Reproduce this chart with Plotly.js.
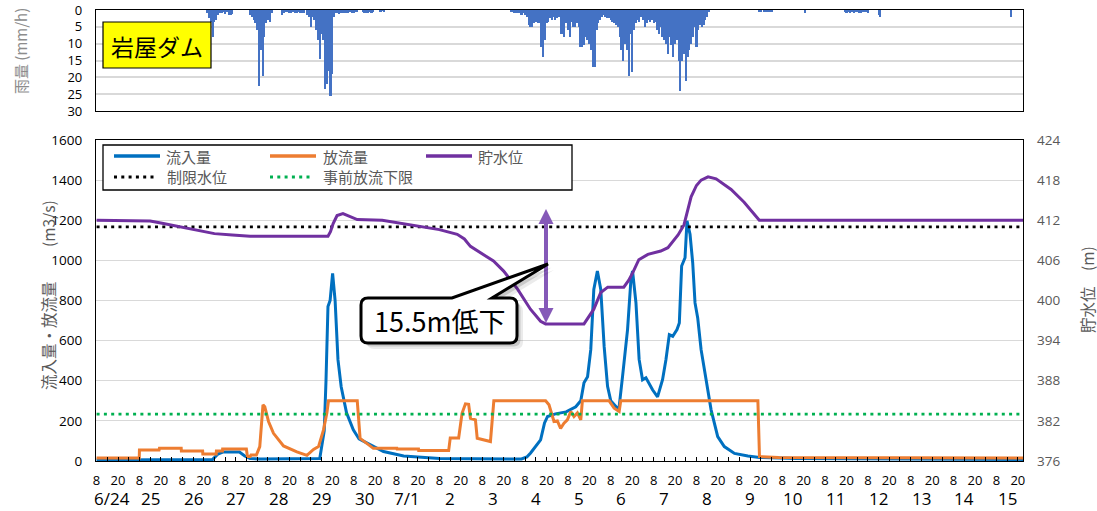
<!DOCTYPE html>
<html lang="ja">
<head>
<meta charset="utf-8">
<title>岩屋ダム 雨量・流入量・放流量・貯水位</title>
<script src="https://cdn.plot.ly/plotly-3.0.1.min.js"></script>
<style>
  html, body { margin: 0; padding: 0; background: #fff; }
  #chart { width: 1097px; height: 511px; }
</style>
</head>
<body>
<div id="chart"></div>
<script>
// All times are hours counted from 2020-06-24 00:00.
const START = Date.UTC(2020, 5, 24);

// 流入量 (m3/s)
const inflowHours = [8,70,73,76,79,88,91,94,100,133,135.5,136.5,137.6,138.8,140.2,141.6,143.2,145,148,151.8,155,159.3,168.7,180,190,200,246,249,251.1,253.9,256.7,258.9,260.6,265,271,276.4,279.2,281,283,284.8,286.5,288.5,290.4,292.3,294.2,296,298.8,300.5,302.6,305.4,307.3,308.2,310.1,311.9,313.8,315.7,319.4,322.2,325,326.9,328.8,330.7,333.1,334.4,335.7,337.6,338.7,340.4,341.9,343.2,344.7,346.6,349.4,352.2,355.9,359.6,365.3,372.8,379.3,400,527];
const inflowValues = [5,5,8,35,45,45,25,12,10,12,150,400,770,800,935,800,505,370,240,155,110,90,47,25,18,13,10,20,40,72,105,190,222,235,245,270,300,390,420,555,855,947,855,570,372,300,272,255,422,655,905,947,790,505,405,415,355,320,405,505,630,622,655,688,972,1013,1197,1130,988,788,713,555,405,255,122,72,38,25,18,12,8];

// 放流量 (m3/s)
const releaseHours = [8,31.9,32,43,43.2,55.4,55.5,67.4,67.5,75,75.1,78.5,78.6,91.9,92.5,94,94.5,97.5,99.4,100.5,101.2,102.2,104.3,107.1,112.7,120.2,125.8,129.5,132.3,135.1,137,137.9,154,155.6,163,176.2,176.3,188.3,188.4,205.2,206.1,210.8,212.7,214.6,216.4,217.4,220.2,221.2,224.9,228.6,230.5,259.5,261.4,262.7,264.2,266.1,267.9,269.8,271.7,273.6,275.4,277.3,279.2,280.1,295.1,297.9,300.7,301.6,378.4,379.3,390,527];
const releaseValues = [15,15,55,55,63,63,50,50,35,35,50,50,60,60,22,22,30,30,72,200,280,270,197,138,75,45,28,58,72,155,240,300,300,113,63,63,60,60,52,52,115,115,238,285,283,213,205,113,105,97,300,300,280,238,197,200,163,188,205,247,222,240,205,300,300,263,247,300,300,22,18,15];

// 貯水位 (m)
const levelHours = [8,32,38,44,50,56,62,68,74,84,94,137.6,139,140.5,142.7,146,150,154,168,182,200,210,214,217.4,223,230.3,236,243.8,251,256.7,259.5,281,286.5,290.4,294.3,303.3,306,308.4,311.7,316.8,324,328,333.7,337,341,344,346.6,350.5,355,363.4,370.7,379.2,527];
const levelValues = [412.0,412.0,411.9,411.6,411.3,410.9,410.6,410.3,410.0,409.8,409.6,409.6,410.3,411.5,412.7,413.0,412.6,412.1,412.0,411.4,410.6,409.9,409.2,408.1,407.2,405.9,404.4,401.7,398.7,396.9,396.5,396.5,398.7,401.2,402.0,402.0,403.0,404.2,406.1,406.9,407.4,407.9,409.8,411.3,415.5,417.2,418.0,418.5,418.2,416.6,414.7,412.0,412.0];

// 制限水位 / 事前放流下限 (m)
const limitLevel = 411.0;
const preReleaseLowerLevel = 383.0;

// 時間雨量 (mm/h): each spell = first hour + consecutive hourly values
const rainSpellStart = [70, 94, 112, 126, 143, 167, 240, 379, 405, 427, 446, 520];
const rainSpellValues = [
  [1,2.5,3.5,8,3.5,3,1.5,1,0.8,0.5,1.2,0.5,1.5,1.5,1.2],
  [1.5,2,3,4,6,22.5,12,19.5,8,4,3,3.5,1],
  [1.5,1,0.3,0.5,0.8,1,0.5,0.8,1,0.5,1,0.8,1],
  [1.5,2,5,2,3,6,9,14.5,7,9,23.5,22,18,25.5,19,2,1],
  [1,1.2,1,1,0.8,1,1,0.5,0.8,1,0.5,0.3,0,0,0.3,0.8,0.8,1,0.5,0.8,0.3],
  [0.3,0.2,0.3],
  [0.5,0.5,0.8,0.8,1,1,1.5,1,1.5,2,
   4.5,5,5,4,3.5,4,4,11,14,9,
   4,3.5,2.5,3,2,3,2.5,2,7,7,
   8,4,6,8,3.5,5,5,4,5,11,
   11,10.5,8,9,10,12,17,17,6,4,
   3,2,1.5,2,2.5,2.5,3,3.5,4,4.5,
   5,8,12,15,10,12,19.5,7,18.5,6,
   4,3,3.5,2,3,5,4,3,3.5,3,
   4,3.5,6,7,5,8,9,10,13,8,
   10.5,14,10,9,15,24,15,13,21,14,
   12,10,8,5,11,6,4.5,5,4.5,3,
   2,0.5],
  [0.3,0.3,0,0.3,0.5,0.3,0.3,0.3],
  [1],
  [0.5,0.8,0.5,1,0.5,0.8,0.5,0.5,1,0.8,0.5,0.3,0.5,0.8],
  [1.5,2],
  [2]
];

// Axis labels
const dayLabels = ['6/24','25','26','27','28','29','30','7/1','2','3','4','5','6','7','8','9','10','11','12','13','14','15'];
const hourLabels = {8: '8', 20: '20'};
const rainTicks = [0, 5, 10, 15, 20, 25, 30];

// ---------------------------------------------------------------------------
const NUM_FONT = '"Open Sans", "Noto Sans CJK JP", sans-serif';
const JP_FONT = '"Noto Sans CJK JP", "Open Sans", sans-serif';

const stamp = h => new Date(START + h * 3600000).toISOString().slice(0, 19).replace('T', ' ');
const xRange = [stamp(7.67), stamp(526.9)];

// page pixel -> paper coordinates (plot area: left 96, top 10, 927 x 451)
const M = {l: 96, r: 74, t: 10, b: 50};
const PW = 1097 - M.l - M.r, PH = 511 - M.t - M.b;
const px = x => (x - M.l) / PW;
const py = y => (M.t + PH - y) / PH;
const P = (x, y) => px(x).toFixed(5) + ',' + py(y).toFixed(5);

// rainfall bars
const rainX = [], rainY = [];
rainSpellStart.forEach((h0, k) => {
  rainSpellValues[k].forEach((v, i) => { rainX.push(stamp(h0 + i)); rainY.push(v); });
});

// bottom axis ticks every 6 h, labelled at 8 and 20
const tickVals = [], tickText = [];
for (let h = 8; h <= 524; h += 6) {
  tickVals.push(stamp(h));
  tickText.push(hourLabels[h % 24] || '');
}

const DOT = '3px,4.3px';
const traces = [
  {
    x: levelHours.map(stamp), y: levelHours.map(() => limitLevel),
    xaxis: 'x2', yaxis: 'y3', mode: 'lines', name: '制限水位',
    line: {color: '#000000', width: 2.8, dash: DOT}, hoverinfo: 'skip'
  },
  {
    x: levelHours.map(stamp), y: levelHours.map(() => preReleaseLowerLevel),
    xaxis: 'x2', yaxis: 'y3', mode: 'lines', name: '事前放流下限',
    line: {color: '#00B050', width: 2.8, dash: DOT}, hoverinfo: 'skip'
  },
  {
    x: inflowHours.map(stamp), y: inflowValues, xaxis: 'x2', yaxis: 'y2',
    mode: 'lines', name: '流入量', line: {color: '#0070C0', width: 3}
  },
  {
    x: releaseHours.map(stamp), y: releaseValues, xaxis: 'x2', yaxis: 'y2',
    mode: 'lines', name: '放流量', line: {color: '#ED7D31', width: 3}
  },
  {
    x: levelHours.map(stamp), y: levelValues, xaxis: 'x2', yaxis: 'y3',
    mode: 'lines', name: '貯水位', line: {color: '#7030A0', width: 3}
  },
  {
    type: 'bar', x: rainX, y: rainY, xaxis: 'x', yaxis: 'y', name: '雨量',
    width: 4300000, marker: {color: '#4472C4', line: {width: 0}}
  }
];

// callout with a wedge pointing at the arrow
function calloutPath(dx, dy) {
  const x0 = 361 + dx, x1 = 517 + dx, y0 = 298 + dy, y1 = 343 + dy, r = 7;
  const b0 = 452 + dx, b1 = 492 + dx, tx = 548 + dx, ty = 264 + dy;
  return 'M' + P(x0 + r, y0) + ' L' + P(b0, y0) + ' L' + P(tx, ty) + ' L' + P(b1, y0) +
    ' L' + P(x1 - r, y0) + ' Q' + P(x1, y0) + ' ' + P(x1, y0 + r) +
    ' L' + P(x1, y1 - r) + ' Q' + P(x1, y1) + ' ' + P(x1 - r, y1) +
    ' L' + P(x0 + r, y1) + ' Q' + P(x0, y1) + ' ' + P(x0, y1 - r) +
    ' L' + P(x0, y0 + r) + ' Q' + P(x0, y0) + ' ' + P(x0 + r, y0) + ' Z';
}

const paperShape = o => Object.assign({xref: 'paper', yref: 'paper', layer: 'above'}, o);
const legendLine = (x0, x1, y, color, dash) => paperShape({
  type: 'line', x0: px(x0), x1: px(x1), y0: py(y), y1: py(y),
  line: {color: color, width: dash ? 2.8 : 3.5, dash: dash || 'solid'}
});
const ARROW = '#8559B8';

const shapes = [
  // station name box
  paperShape({type: 'rect', x0: px(103), x1: px(211), y0: py(68), y1: py(22),
    fillcolor: '#FFFF00', line: {color: '#000', width: 1.2}}),
  // legend frame and samples
  paperShape({type: 'rect', x0: px(103), x1: px(572), y0: py(190), y1: py(145),
    fillcolor: '#FFFFFF', line: {color: '#000', width: 1.3}}),
  legendLine(114, 160, 156, '#0070C0'),
  legendLine(270, 316, 156, '#ED7D31'),
  legendLine(426, 472, 156, '#7030A0'),
  legendLine(114, 157, 177, '#000000', DOT),
  legendLine(270, 313, 177, '#00B050', DOT),
  // double arrow
  paperShape({type: 'line', x0: px(546), x1: px(546), y0: py(222), y1: py(309),
    line: {color: ARROW, width: 4}}),
  paperShape({type: 'path', path: 'M' + P(546, 209) + ' L' + P(538.5, 224) + ' L' + P(553.5, 224) + ' Z',
    fillcolor: ARROW, line: {width: 0}}),
  paperShape({type: 'path', path: 'M' + P(546, 323) + ' L' + P(538.5, 308) + ' L' + P(553.5, 308) + ' Z',
    fillcolor: ARROW, line: {width: 0}}),
  // callout shadow and body
  paperShape({type: 'path', path: calloutPath(6, 6), fillcolor: 'rgba(0,0,0,0.08)', line: {width: 0}}),
  paperShape({type: 'path', path: calloutPath(3.5, 3.5), fillcolor: 'rgba(0,0,0,0.14)', line: {width: 0}}),
  paperShape({type: 'path', path: calloutPath(0, 0), fillcolor: '#FFFFFF', line: {color: '#000', width: 3}})
];

const text = (x, y, s, o) => Object.assign({
  xref: 'paper', yref: 'paper', x: px(x), y: py(y), text: s, showarrow: false,
  xanchor: 'left', yanchor: 'middle', font: {family: JP_FONT, size: 15, color: '#595959'}
}, o || {});

const annotations = [
  text(164, 156, '流入量'),
  text(321, 156, '放流量'),
  text(476, 156, '貯水位'),
  text(165, 177, '制限水位'),
  text(321, 177, '事前放流下限'),
  text(157, 45.5, '岩屋ダム', {xanchor: 'center', font: {family: JP_FONT, size: 23, color: '#000'}}),
  text(439, 320.5, '15.5m低下', {xanchor: 'center', font: {family: JP_FONT, size: 27, color: '#000'}}),
  // axis titles
  text(20, 51, '雨量 (mm/h)', {xanchor: 'center', textangle: -90, font: {family: JP_FONT, size: 15, color: '#8C8C8C'}}),
  text(48, 295, '流入量・放流量　　 (m3/s)', {xanchor: 'center', textangle: -90, font: {family: JP_FONT, size: 15.5, color: '#595959'}}),
  text(1087, 290, '貯水位　(m)', {xanchor: 'center', textangle: -90, font: {family: JP_FONT, size: 15.5, color: '#595959'}})
];

// day labels under the hour ticks
dayLabels.forEach((d, i) => {
  annotations.push({
    xref: 'x2', yref: 'paper', x: stamp(i * 24 + 14), y: py(498.5), text: d,
    showarrow: false, xanchor: 'center', yanchor: 'middle', xshift: i === 0 ? 5 : 0,
    font: {family: NUM_FONT, size: 17, color: '#000'}
  });
});

const frame = {showline: true, mirror: true, linecolor: '#000', linewidth: 1.3, zeroline: false, fixedrange: true};

const layout = {
  width: 1097, height: 511,
  margin: M,
  paper_bgcolor: '#FFFFFF', plot_bgcolor: '#FFFFFF',
  showlegend: false,
  bargap: 0,
  font: {family: NUM_FONT, color: '#000'},
  xaxis: Object.assign({domain: [0, 1], anchor: 'y', type: 'date', range: xRange,
    showticklabels: false, ticks: '', showgrid: false}, frame),
  yaxis: Object.assign({domain: [py(111), 1], anchor: 'x', range: [30, 0],
    tickmode: 'array', tickvals: rainTicks, ticktext: rainTicks.map(String), ticklabeloverflow: 'allow',
    showgrid: true, gridcolor: '#D9D9D9', gridwidth: 1.5, ticks: '',
    tickfont: {family: NUM_FONT, size: 13, color: '#000'}, ticklabelstandoff: 10}, frame),
  xaxis2: Object.assign({domain: [0, 1], anchor: 'y2', type: 'date', range: xRange,
    tickmode: 'array', tickvals: tickVals, ticktext: tickText,
    ticks: 'inside', ticklen: 4, tickwidth: 1, tickcolor: '#000', showgrid: false,
    tickfont: {family: NUM_FONT, size: 13, color: '#000'}, ticklabelstandoff: 7}, frame),
  yaxis2: Object.assign({domain: [0, py(140)], anchor: 'x2', range: [0, 1600], tick0: 0, dtick: 200,
    showgrid: true, gridcolor: '#D9D9D9', gridwidth: 1.3, ticks: '',
    tickfont: {family: NUM_FONT, size: 13.5, color: '#000'}, ticklabelstandoff: 10}, frame),
  yaxis3: {overlaying: 'y2', anchor: 'x2', side: 'right', range: [376, 424], tick0: 376, dtick: 6,
    showgrid: false, showline: false, zeroline: false, ticks: '', fixedrange: true,
    tickfont: {family: NUM_FONT, size: 13.5, color: '#595959'}, ticklabelstandoff: 13},
  shapes: shapes,
  annotations: annotations
};

Plotly.newPlot('chart', traces, layout, {displayModeBar: false, responsive: false});
</script>
</body>
</html>
